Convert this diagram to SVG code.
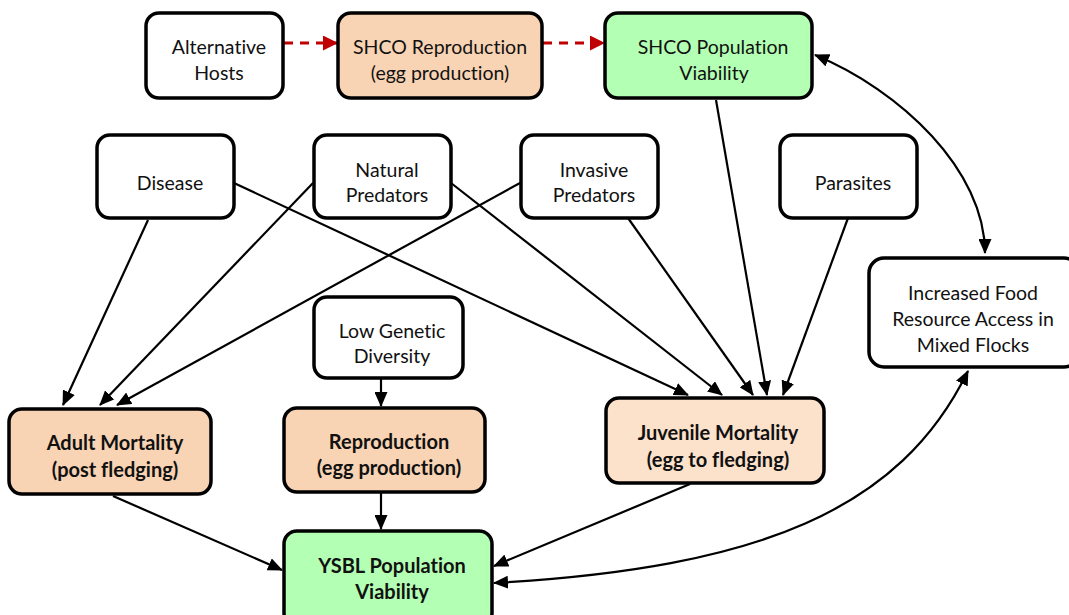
<svg xmlns="http://www.w3.org/2000/svg" width="1069" height="615" viewBox="0 0 1069 615">
<defs>
<marker id="ah" markerUnits="userSpaceOnUse" markerWidth="15" markerHeight="13" refX="14" refY="6.5" orient="auto-start-reverse"><path d="M0,0 L15,6.5 L0,13 Z" fill="#000"/></marker>
<marker id="ahr" markerUnits="userSpaceOnUse" markerWidth="15" markerHeight="15" refX="14" refY="7.5" orient="auto"><path d="M0,0 L15,7.5 L0,15 Z" fill="#c00000"/></marker>
<style>
.n{stroke:#000;stroke-width:3.5}
.w{fill:#fff}.o{fill:#f9d4b4}.l{fill:#fce1cb}.g{fill:#b3ffb3}
text{font-family:Lato,"Liberation Sans",sans-serif;font-size:19.5px;fill:#111;text-anchor:middle;font-variant-ligatures:none}
.b{font-weight:bold;font-size:20px}
.c{fill:none;stroke:#000;stroke-width:2.2}
.d{fill:none;stroke:#c00000;stroke-width:3;stroke-dasharray:9,7}
</style>
</defs>
<g id="connectors">
<line class="d" x1="284" y1="43" x2="337" y2="43" marker-end="url(#ahr)"/>
<line class="d" x1="543" y1="43" x2="604" y2="43" marker-end="url(#ahr)"/>
<path class="c" d="M815,55 C900,90 985,170 985,253" marker-start="url(#ah)" marker-end="url(#ah)"/>
<line class="c" x1="716" y1="100" x2="767" y2="395" marker-end="url(#ah)"/>
<line class="c" x1="148" y1="220" x2="63" y2="405" marker-end="url(#ah)"/>
<line class="c" x1="234" y1="183" x2="688" y2="395" marker-end="url(#ah)"/>
<line class="c" x1="313" y1="183" x2="100" y2="405" marker-end="url(#ah)"/>
<line class="c" x1="451" y1="183" x2="722" y2="395" marker-end="url(#ah)"/>
<line class="c" x1="520" y1="183" x2="117" y2="405" marker-end="url(#ah)"/>
<line class="c" x1="628" y1="218" x2="753" y2="395" marker-end="url(#ah)"/>
<line class="c" x1="848" y1="218" x2="783" y2="395" marker-end="url(#ah)"/>
<line class="c" x1="381" y1="379" x2="381" y2="406" marker-end="url(#ah)"/>
<line class="c" x1="381" y1="493" x2="381" y2="529" marker-end="url(#ah)"/>
<line class="c" x1="113" y1="496" x2="282" y2="570" marker-end="url(#ah)"/>
<line class="c" x1="690" y1="484" x2="494" y2="566" marker-end="url(#ah)"/>
<path class="c" d="M494,583 C760,568 900,510 968,371" marker-start="url(#ah)" marker-end="url(#ah)"/>
</g>
<g id="alt"><rect class="n w" x="146" y="13" width="137" height="85" rx="13"/><text x="219" y="54">Alternative</text><text x="219" y="80">Hosts</text></g>
<g id="shcorep"><rect class="n o" x="338" y="13" width="204" height="85" rx="13"/><text x="440" y="54">SHCO Reproduction</text><text x="440" y="80">(egg production)</text></g>
<g id="shcopop"><rect class="n g" x="605" y="13" width="207" height="85" rx="13"/><text x="713" y="54">SHCO Population</text><text x="714" y="80">Viability</text></g>
<g id="disease"><rect class="n w" x="97" y="135" width="137" height="83" rx="13"/><text x="170" y="190">Disease</text></g>
<g id="natural"><rect class="n w" x="314" y="135" width="137" height="83" rx="13"/><text x="387" y="177">Natural</text><text x="387" y="202">Predators</text></g>
<g id="invasive"><rect class="n w" x="521" y="135" width="137" height="83" rx="13"/><text x="594" y="177">Invasive</text><text x="594" y="202">Predators</text></g>
<g id="parasites"><rect class="n w" x="780" y="135" width="137" height="83" rx="13"/><text x="853" y="190">Parasites</text></g>
<g id="lowgen"><rect class="n w" x="314" y="297" width="149" height="81" rx="13"/><text x="392" y="338">Low Genetic</text><text x="392" y="363">Diversity</text></g>
<g id="food"><rect class="n w" x="869" y="258" width="210" height="109" rx="15"/><text x="973" y="300">Increased Food</text><text x="973" y="326">Resource Access in</text><text x="973" y="352">Mixed Flocks</text></g>
<g id="adult"><rect class="n o" x="9" y="409" width="202" height="85" rx="13"/><text class="b" x="115" y="450">Adult Mortality</text><text class="b" x="115" y="477">(post fledging)</text></g>
<g id="repro"><rect class="n o" x="284" y="408" width="201" height="84" rx="13"/><text class="b" x="389" y="449">Reproduction</text><text class="b" x="389" y="475">(egg production)</text></g>
<g id="juvenile"><rect class="n l" x="606" y="398" width="218" height="85" rx="13"/><text class="b" x="718" y="440">Juvenile Mortality</text><text class="b" x="718" y="467">(egg to fledging)</text></g>
<g id="ysbl"><rect class="n g" x="284" y="531" width="208" height="95" rx="13"/><text class="b" x="392" y="573">YSBL Population</text><text class="b" x="392" y="599">Viability</text></g>
</svg>
